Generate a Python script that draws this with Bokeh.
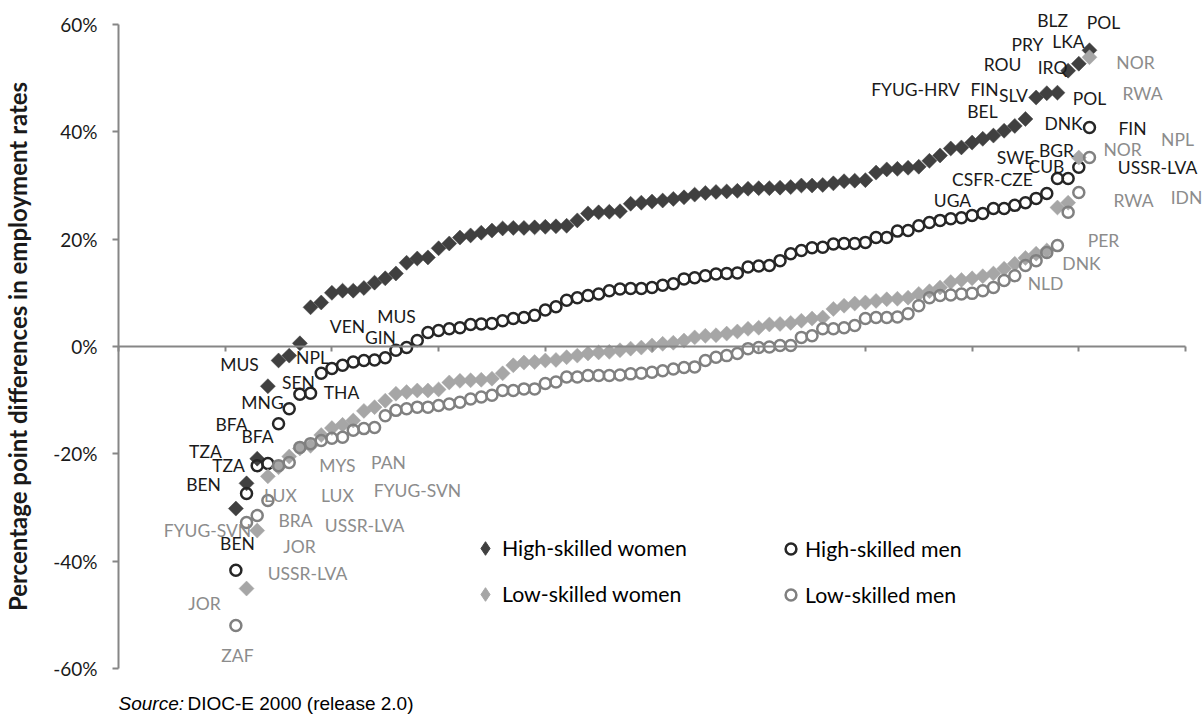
import numpy as np
from bokeh.plotting import figure
from bokeh.models import (Range1d, LinearAxis, FixedTicker, PrintfTickFormatter,
                          ColumnDataSource, LabelSet, Label, Legend, LegendItem)
from bokeh.core.properties import value
from bokeh.embed import file_html
from bokeh.resources import INLINE

# ---------------- data (percentage point differences, sorted by rank) ----------------
hw_start = 11
high_women = [-30.2, -25.5, -20.9, -7.4, -2.6, -1.7, 0.6, 7.3, 8.2, 10.0, 10.4, 10.4, 10.9,
              11.9, 12.7, 13.6, 15.6, 16.4, 16.6, 18.3, 19.2, 20.3, 20.7, 21.2, 21.6,
              22.0, 22.1, 22.1, 22.2, 22.3, 22.4, 22.5, 23.5, 24.8, 25.0, 25.1, 25.2,
              26.6, 26.8, 27.0, 27.2, 27.5, 27.8, 28.3, 28.6, 28.8, 28.9, 29.0,
              29.4, 29.5, 29.5, 29.6, 29.7, 30.0, 30.0, 30.1, 30.4, 30.8, 30.9, 31.0,
              32.4, 33.0, 33.1, 33.3, 33.5, 34.6, 35.6, 36.9, 37.1, 38.0, 38.7, 39.3,
              40.2, 41.1, 42.4, 46.4, 47.2, 47.3, 51.4, 52.7, 55.2]

hm_start = 11
high_men = [-41.7, -27.4, -22.2, -21.8, -14.4, -11.6, -8.9, -8.7, -5.0, -4.1, -3.5, -2.9,
            -2.6, -2.5, -2.1, -0.7, -0.2, 1.1, 2.6, 3.0, 3.3, 3.5, 4.1, 4.2, 4.3, 4.8,
            5.2, 5.4, 5.8, 6.8, 7.4, 8.6, 9.1, 9.5, 9.8, 10.4, 10.7, 10.8, 10.8, 11.0,
            11.4, 11.7, 12.6, 12.8, 13.2, 13.5, 13.6, 13.7, 14.8, 15.0, 15.1, 16.0,
            17.3, 17.9, 18.4, 18.5, 19.1, 19.2, 19.2, 19.4, 20.3, 20.3, 21.5, 21.6,
            22.5, 23.1, 23.5, 23.8, 24.0, 24.4, 24.8, 25.7, 25.7, 26.3, 26.8, 27.6,
            28.5, 31.3, 31.3, 33.4, 40.8]

lw_start = 12
low_women = [-45.1, -34.3, -24.2, -22.5, -20.5, -19.0, -18.5, -16.5, -15.2, -14.6, -13.8,
             -12.0, -11.3, -10.1, -8.8, -8.5, -8.2, -8.2, -8.0, -6.7, -6.4, -6.3, -6.2,
             -6.0, -5.0, -3.5, -3.0, -2.9, -2.6, -2.5, -2.0, -1.7, -1.3, -1.1, -1.0,
             -0.7, -0.4, -0.2, 0.2, 0.5, 0.7, 1.1, 1.7, 2.0, 2.1, 2.4, 2.8, 3.3, 3.5,
             4.1, 4.2, 4.4, 4.8, 5.2, 5.4, 7.0, 7.6, 8.0, 8.2, 8.5, 8.8, 8.9, 9.1, 9.8,
             10.3, 11.0, 12.0, 12.4, 12.7, 13.1, 13.6, 14.5, 15.4, 16.5, 17.3, 17.9,
             25.9, 26.8, 35.2, 53.9]

lm_start = 11
low_men = [-52.0, -32.8, -31.5, -28.7, -22.2, -21.6, -18.8, -18.1, -17.5, -17.1, -16.9,
           -15.6, -15.3, -15.1, -12.9, -11.9, -11.6, -11.3, -11.3, -11.0, -10.7, -10.4,
           -9.8, -9.4, -9.1, -8.2, -8.2, -7.9, -7.9, -6.9, -6.6, -5.7, -5.7, -5.4, -5.4,
           -5.4, -5.3, -5.1, -5.0, -4.8, -4.5, -4.2, -3.9, -3.8, -2.6, -2.0, -1.7, -1.3,
           -0.4, -0.2, -0.1, 0.2, 0.2, 1.7, 2.0, 3.3, 3.3, 3.5, 3.9, 5.2, 5.4, 5.4, 5.5,
           6.1, 7.6, 9.1, 9.5, 9.6, 9.8, 9.9, 10.4, 11.0, 12.3, 13.2, 15.1, 16.0, 17.5,
           18.8, 25.0, 28.7, 35.2]

series_names = ["High-skilled women", "High-skilled men", "Low-skilled women", "Low-skilled men"]

# country labels (high-skilled = dark text, low-skilled = grey text)
hi_labels = ["MUS", "NPL", "SEN", "THA", "MNG", "BFA", "BFA", "TZA", "TZA", "BEN", "BEN",
             "VEN", "GIN", "MUS", "UGA", "CSFR-CZE", "SWE", "CUB", "BGR", "DNK", "POL",
             "FIN", "USSR-LVA", "BEL", "FYUG-HRV", "FIN", "SLV", "ROU", "IRQ", "PRY",
             "LKA", "BLZ", "POL"]
hi_label_x = [11.34, 18.18, 16.87, 20.90, 13.50, 10.59, 13.03, 8.15, 10.31, 7.97, 11.15,
              21.46, 24.55, 26.05, 78.16, 81.91, 84.07, 86.97, 87.91, 88.57, 91.00,
              95.03, 97.38, 80.97, 74.70, 81.16, 83.88, 82.85, 87.54, 85.19,
              89.03, 87.54, 92.31]
hi_label_y = [-3.35, -2.05, -6.71, -8.57, -10.43, -14.53, -16.77, -19.56, -22.17, -25.71,
              -36.71, 3.73, 1.68, 5.59, 27.20, 31.12, 35.22, 33.54, 36.52, 41.55, 46.21,
              40.62, 33.35, 43.79, 47.89, 47.89, 46.77, 52.54, 51.98, 56.27,
              56.83, 60.74, 60.37]

lo_labels = ["NOR", "RWA", "NPL", "NOR", "RWA", "IDN", "PER", "DNK", "NLD", "MYS", "PAN",
             "FYUG-SVN", "LUX", "LUX", "BRA", "USSR-LVA", "JOR", "USSR-LVA", "FYUG-SVN",
             "JOR", "ZAF"]
lo_label_x = [95.31, 95.97, 99.25, 94.10, 95.13, 100.09, 92.31, 90.25, 86.88, 20.52, 25.30,
              28.02, 15.18, 20.52, 16.59, 23.06, 16.96, 17.71, 8.34, 8.06, 11.15]
lo_label_y = [52.92, 47.14, 38.57, 36.71, 27.20, 27.76, 19.75, 15.47, 11.74, -22.17, -21.61,
              -26.83, -27.76, -27.76, -32.42, -33.35, -37.26, -42.30, -34.28, -47.89, -57.57]

y_ticks = [-60, -40, -20, 0, 20, 40, 60]
x_ticks = [0, 10, 20, 30, 40, 50, 60, 70, 80, 90, 100]

# ---------------- layout geometry (canvas pixels) ----------------
W, H = 1202, 714
X0_PX, X100_PX = 118, 1185      # canvas x of data x = 0 and x = 100
Y60_PX, YM60_PX = 24, 668       # canvas y of +60% and -60%
px_x = (X100_PX - X0_PX) / 100.0
px_y = (YM60_PX - Y60_PX) / 120.0
x_range = Range1d(-X0_PX / px_x, 100 + (W - X100_PX) / px_x)
y_range = Range1d(-60 - (H - YM60_PX) / px_y, 60 + Y60_PX / px_y)

FONT = "Lato"
p = figure(width=W, height=H, x_range=x_range, y_range=y_range,
           x_axis_type=None, y_axis_type=None, output_backend="svg",
           toolbar_location=None, min_border_left=0, min_border_right=0,
           min_border_top=0, min_border_bottom=0)
p.outline_line_color = None
p.background_fill_color = "white"
p.border_fill_color = "white"

axis_col = "#868686"
xaxis = LinearAxis(fixed_location=0, bounds=(0, 100), ticker=FixedTicker(ticks=x_ticks),
                   axis_line_color=axis_col, axis_line_width=2,
                   major_tick_line_color=axis_col, major_tick_line_width=2,
                   major_tick_out=5, major_tick_in=0, minor_tick_line_color=None,
                   major_label_text_color=None, major_label_text_font_size="1px")
p.add_layout(xaxis, "below")

yaxis = LinearAxis(fixed_location=0, bounds=(-60, 60), ticker=FixedTicker(ticks=y_ticks),
                   formatter=PrintfTickFormatter(format="%d%%"),
                   axis_line_color=axis_col, axis_line_width=2,
                   major_tick_line_color=axis_col, major_tick_line_width=2,
                   major_tick_out=6, major_tick_in=0, minor_tick_line_color=None,
                   major_label_text_font=FONT, major_label_text_font_size="19px",
                   major_label_text_color="#1a1a1a", major_label_standoff=15,
                   axis_label="Percentage point differences in employment rates",
                   axis_label_text_font=FONT, axis_label_text_font_size="24px",
                   axis_label_text_font_style="bold", axis_label_text_color="#1a1a1a",
                   axis_label_standoff=18)
p.add_layout(yaxis, "left")

def xs(start, vals):
    return list(np.arange(start, start + len(vals)))

HW_COL, HM_COL, LW_COL, LM_COL = "#404040", "#262626", "#A6A6A6", "#808080"
SQ = 10.6
r_hw = p.scatter(xs(hw_start, high_women), high_women, marker="square", angle=np.pi / 4,
                 size=SQ, fill_color=HW_COL, line_color=HW_COL, line_width=0.5)
r_hm = p.scatter(xs(hm_start, high_men), high_men, marker="circle", size=11,
                 fill_color=None, line_color=HM_COL, line_width=2.5)
r_lw = p.scatter(xs(lw_start, low_women), low_women, marker="square", angle=np.pi / 4,
                 size=SQ, fill_color=LW_COL, line_color=LW_COL, line_width=0.5)
r_lm = p.scatter(xs(lm_start, low_men), low_men, marker="circle", size=11,
                 fill_color=None, line_color=LM_COL, line_width=2.5)

# legend swatches (diamond glyphs drawn only in the legend)
k_hw = p.scatter([np.nan], [np.nan], marker="diamond", fill_color=HW_COL, line_color=HW_COL)
k_lw = p.scatter([np.nan], [np.nan], marker="diamond", fill_color=LW_COL, line_color=LW_COL)

hi_src = ColumnDataSource(dict(x=hi_label_x, y=hi_label_y, t=hi_labels))
lo_src = ColumnDataSource(dict(x=lo_label_x, y=lo_label_y, t=lo_labels))
for src, col in ((hi_src, "#1a1a1a"), (lo_src, "#8c8c8c")):
    p.add_layout(LabelSet(x="x", y="y", text="t", source=src, text_font=value(FONT),
                          text_font_size=value("17.5px"), text_color=value(col),
                          text_align="center", text_baseline="middle"))

legend_kw = dict(background_fill_alpha=0, border_line_color=None, padding=0, margin=0,
                 label_height=20, label_text_font=FONT, label_text_font_size="21.3px",
                 label_text_color="#000000", orientation="vertical")
leg1 = Legend(items=[LegendItem(label=series_names[0], renderers=[k_hw]),
                     LegendItem(label=series_names[2], renderers=[k_lw])],
              location=(468, 100), spacing=6, glyph_height=40, glyph_width=34,
              label_standoff=0, **legend_kw)
leg2 = Legend(items=[LegendItem(label=series_names[1], renderers=[r_hm]),
                     LegendItem(label=series_names[3], renderers=[r_lm])],
              location=(777, 106), spacing=19, glyph_height=27, glyph_width=27,
              label_standoff=1, **legend_kw)
p.add_layout(leg1)
p.add_layout(leg2)

p.add_layout(Label(x=0, y=-66.5, text="Source:", text_font="Liberation Sans",
                   text_font_size="19px", text_font_style="italic", text_color="#000000",
                   text_baseline="middle"))
p.add_layout(Label(x=0, y=-66.5, x_offset=69, text="DIOC-E 2000 (release 2.0)",
                   text_font="Liberation Sans", text_font_size="19px",
                   text_color="#000000", text_baseline="middle"))

open("out.html", "w").write(file_html(p, INLINE))
